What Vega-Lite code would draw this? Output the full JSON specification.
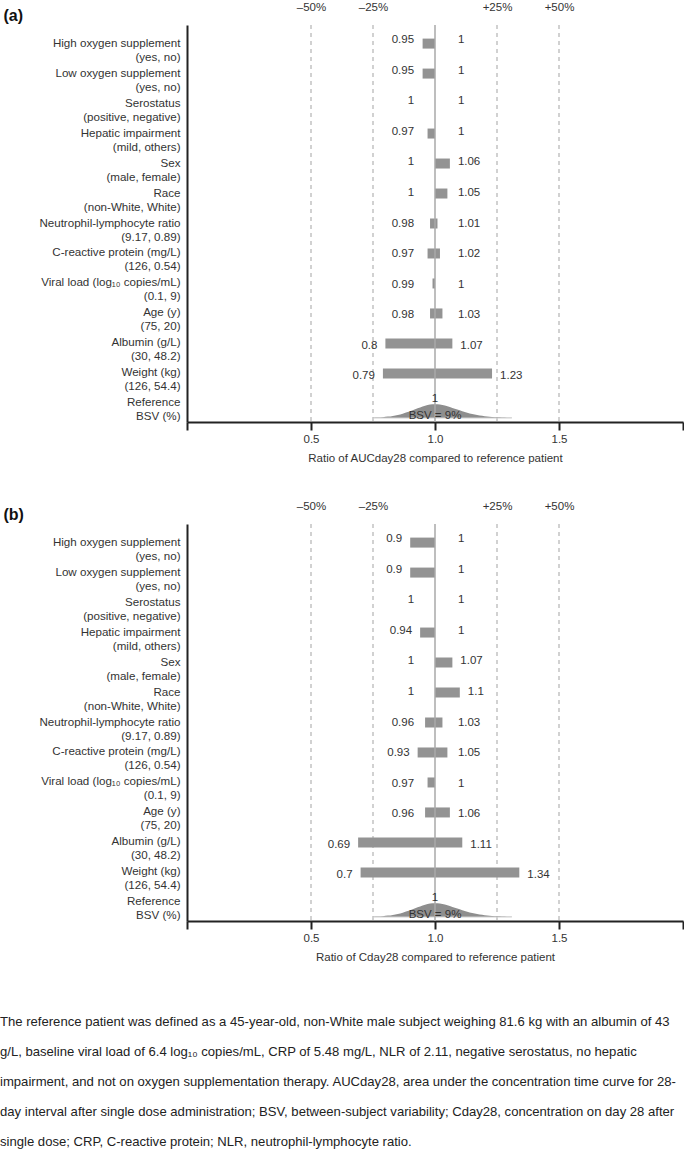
{
  "$schema": "https://vega.github.io/schema/vega-lite/v6.json",
  "padding": {"left": 0, "top": 1, "right": 0, "bottom": 0},
  "spacing": 36,
  "title": {
    "text": [
      "The reference patient was defined as a 45-year-old, non-White male subject weighing 81.6 kg with an albumin of 43",
      "g/L, baseline viral load of 6.4 log₁₀ copies/mL, CRP of 5.48 mg/L, NLR of 2.11, negative serostatus, no hepatic",
      "impairment, and not on oxygen supplementation therapy. AUCday28, area under the concentration time curve for 28-",
      "day interval after single dose administration; BSV, between-subject variability; Cday28, concentration on day 28 after",
      "single dose; CRP, C-reactive protein; NLR, neutrophil-lymphocyte ratio."
    ],
    "orient": "bottom",
    "anchor": "start",
    "frame": "bounds",
    "offset": 53,
    "dx": -3,
    "fontSize": 13.1,
    "fontWeight": "normal",
    "color": "#222222",
    "lineHeight": 30,
    "font": "Liberation Sans"
  },
  "vconcat": [
    {
      "width": 496,
      "height": 397,
      "data": {"values": [
        {"order": 1, "label": "High oxygen supplement|(yes, no)", "low": 0.95, "high": 1},
        {"order": 2, "label": "Low oxygen supplement|(yes, no)", "low": 0.95, "high": 1},
        {"order": 3, "label": "Serostatus|(positive, negative)", "low": 1, "high": 1},
        {"order": 4, "label": "Hepatic impairment|(mild, others)", "low": 0.97, "high": 1},
        {"order": 5, "label": "Sex|(male, female)", "low": 1, "high": 1.06},
        {"order": 6, "label": "Race|(non-White, White)", "low": 1, "high": 1.05},
        {"order": 7, "label": "Neutrophil-lymphocyte ratio|(9.17, 0.89)", "low": 0.98, "high": 1.01},
        {"order": 8, "label": "C-reactive protein (mg/L)|(126, 0.54)", "low": 0.97, "high": 1.02},
        {"order": 9, "label": "Viral load (log₁₀ copies/mL)|(0.1, 9)", "low": 0.99, "high": 1},
        {"order": 10, "label": "Age (y)|(75, 20)", "low": 0.98, "high": 1.03},
        {"order": 11, "label": "Albumin (g/L)|(30, 48.2)", "low": 0.8, "high": 1.07},
        {"order": 12, "label": "Weight (kg)|(126, 54.4)", "low": 0.79, "high": 1.23},
        {"order": 13, "label": "Reference|BSV (%)", "low": 1, "high": 1, "bsv": "BSV = 9%"}
      ]},
      "layer": [
        {
          "data": {"values": [{"pct": 0.5}, {"pct": 0.75}, {"pct": 1.25}, {"pct": 1.5}]},
          "mark": {"type": "rule", "color": "#b3b3b3", "strokeDash": [4, 4], "strokeWidth": 1.2},
          "encoding": {
            "x": {"field": "pct", "type": "quantitative", "scale": {"domain": [0, 2], "nice": false, "zero": false},
              "axis": {"orient": "top", "values": [0.5, 0.75, 1.25, 1.5], "labelExpr": "(datum.value < 1 ? '–' : '+') + format(abs(datum.value - 1) * 100, 'd') + '%'", "domain": false, "ticks": false, "grid": false, "labelPadding": 13, "title": null, "labelFontSize": 11.5, "labelColor": "#333333"}}
          }
        },
        {
          "data": {"values": [
            {"x": 0.75, "d": 0.015}, {"x": 0.77, "d": 0.03}, {"x": 0.79, "d": 0.06}, {"x": 0.81, "d": 0.1},
            {"x": 0.83, "d": 0.15}, {"x": 0.85, "d": 0.22}, {"x": 0.87, "d": 0.31}, {"x": 0.89, "d": 0.42},
            {"x": 0.91, "d": 0.55}, {"x": 0.93, "d": 0.69}, {"x": 0.95, "d": 0.82}, {"x": 0.97, "d": 0.92},
            {"x": 0.99, "d": 0.99}, {"x": 1.01, "d": 0.99}, {"x": 1.03, "d": 0.93}, {"x": 1.05, "d": 0.84},
            {"x": 1.07, "d": 0.72}, {"x": 1.09, "d": 0.6}, {"x": 1.11, "d": 0.48}, {"x": 1.13, "d": 0.38},
            {"x": 1.15, "d": 0.29}, {"x": 1.17, "d": 0.22}, {"x": 1.19, "d": 0.16}, {"x": 1.21, "d": 0.11},
            {"x": 1.23, "d": 0.08}, {"x": 1.25, "d": 0.05}, {"x": 1.27, "d": 0.035}, {"x": 1.29, "d": 0.02},
            {"x": 1.31, "d": 0.01}
          ]},
          "mark": {"type": "area", "color": "#8e8e8e", "interpolate": "monotone"},
          "encoding": {
            "x": {"field": "x", "type": "quantitative", "axis": null},
            "y": {"field": "d", "type": "quantitative", "scale": {"domain": [-0.286, 28.07], "nice": false, "zero": false}, "axis": null}
          }
        },
        {
          "data": {"values": [{"from": 0.75, "to": 1.31, "base": 0}]},
          "mark": {"type": "rule", "color": "#cfcfcf", "strokeWidth": 1},
          "encoding": {
            "x": {"field": "from", "type": "quantitative", "axis": null},
            "x2": {"field": "to"},
            "y": {"field": "base", "type": "quantitative", "scale": {"domain": [-0.286, 28.07], "nice": false, "zero": false}, "axis": null}
          }
        },
        {
          "mark": {"type": "bar", "height": 10, "color": "#939393"},
          "encoding": {
            "y": {"field": "label", "type": "nominal", "sort": {"field": "order", "op": "min"}, "scale": {"paddingInner": 0, "paddingOuter": 0.12},
              "axis": {"title": "(a)", "labelExpr": "split(datum.label, '|')", "labelLineHeight": 14, "labelFontSize": 11.6, "labelColor": "#333333", "labelPadding": 7, "labelLimit": 300, "ticks": false, "tickSize": 0, "domainColor": "#222222", "domainWidth": 2, "titleAngle": 0, "titleFontSize": 16, "titleFontWeight": "bold", "titleColor": "#111111", "titleAlign": "left", "titleBaseline": "middle", "titleX": -184, "titleY": -10}},
            "x": {"field": "low", "type": "quantitative", "scale": {"domain": [0, 2], "nice": false, "zero": false},
              "axis": {"orient": "bottom", "values": [0, 0.5, 1, 1.5, 2], "labelExpr": "datum.value == 0 || datum.value == 2 ? '' : format(datum.value, '.1f')", "grid": false, "domainColor": "#222222", "domainWidth": 2, "tickColor": "#222222", "tickWidth": 2, "tickSize": 8, "labelPadding": 3, "labelFontSize": 11.5, "labelColor": "#333333", "title": "Ratio of AUCday28 compared to reference patient", "titleFontSize": 11.5, "titleFontWeight": "normal", "titleColor": "#333333", "titlePadding": 8}},
            "x2": {"field": "high"}
          }
        },
        {
          "data": {"values": [{"ref": 1}]},
          "mark": {"type": "rule", "color": "#a9a9a9", "strokeWidth": 1.5},
          "encoding": {"x": {"field": "ref", "type": "quantitative", "axis": null}}
        },
        {
          "transform": [{"calculate": "min(datum.low, 0.948)", "as": "lx"}],
          "mark": {"type": "text", "align": "right", "dx": -8, "fontSize": 11.5, "color": "#333333"},
          "encoding": {
            "y": {"field": "label", "type": "nominal", "sort": {"field": "order", "op": "min"}, "scale": {"paddingInner": 0, "paddingOuter": 0.12}, "axis": null},
            "x": {"field": "lx", "type": "quantitative", "axis": null},
            "text": {"field": "low", "type": "nominal"},
            "opacity": {"condition": {"test": "datum.order == 13", "value": 0}, "value": 1}
          }
        },
        {
          "transform": [{"calculate": "max(datum.high, 1.06)", "as": "rx"}],
          "mark": {"type": "text", "align": "left", "dx": 8, "fontSize": 11.5, "color": "#333333"},
          "encoding": {
            "y": {"field": "label", "type": "nominal", "sort": {"field": "order", "op": "min"}, "scale": {"paddingInner": 0, "paddingOuter": 0.12}, "axis": null},
            "x": {"field": "rx", "type": "quantitative", "axis": null},
            "text": {"field": "high", "type": "nominal"},
            "opacity": {"condition": {"test": "datum.order == 13", "value": 0}, "value": 1}
          }
        },
        {
          "mark": {"type": "text", "align": "center", "dy": -8, "fontSize": 11.5, "color": "#333333"},
          "encoding": {
            "y": {"field": "label", "type": "nominal", "sort": {"field": "order", "op": "min"}, "scale": {"paddingInner": 0, "paddingOuter": 0.12}, "axis": null},
            "x": {"field": "low", "type": "quantitative", "axis": null},
            "text": {"field": "low", "type": "nominal"},
            "opacity": {"condition": {"test": "datum.order == 13", "value": 1}, "value": 0}
          }
        },
        {
          "mark": {"type": "text", "align": "center", "dy": 9, "fontSize": 11.5, "color": "#333333"},
          "encoding": {
            "y": {"field": "label", "type": "nominal", "sort": {"field": "order", "op": "min"}, "scale": {"paddingInner": 0, "paddingOuter": 0.12}, "axis": null},
            "x": {"field": "low", "type": "quantitative", "axis": null},
            "text": {"field": "bsv", "type": "nominal"},
            "opacity": {"condition": {"test": "datum.order == 13", "value": 1}, "value": 0}
          }
        }
      ],
      "resolve": {"scale": {"y": "independent"}, "axis": {"x": "independent"}}
    },
    {
      "width": 496,
      "height": 397,
      "data": {"values": [
        {"order": 1, "label": "High oxygen supplement|(yes, no)", "low": 0.9, "high": 1},
        {"order": 2, "label": "Low oxygen supplement|(yes, no)", "low": 0.9, "high": 1},
        {"order": 3, "label": "Serostatus|(positive, negative)", "low": 1, "high": 1},
        {"order": 4, "label": "Hepatic impairment|(mild, others)", "low": 0.94, "high": 1},
        {"order": 5, "label": "Sex|(male, female)", "low": 1, "high": 1.07},
        {"order": 6, "label": "Race|(non-White, White)", "low": 1, "high": 1.1},
        {"order": 7, "label": "Neutrophil-lymphocyte ratio|(9.17, 0.89)", "low": 0.96, "high": 1.03},
        {"order": 8, "label": "C-reactive protein (mg/L)|(126, 0.54)", "low": 0.93, "high": 1.05},
        {"order": 9, "label": "Viral load (log₁₀ copies/mL)|(0.1, 9)", "low": 0.97, "high": 1},
        {"order": 10, "label": "Age (y)|(75, 20)", "low": 0.96, "high": 1.06},
        {"order": 11, "label": "Albumin (g/L)|(30, 48.2)", "low": 0.69, "high": 1.11},
        {"order": 12, "label": "Weight (kg)|(126, 54.4)", "low": 0.7, "high": 1.34},
        {"order": 13, "label": "Reference|BSV (%)", "low": 1, "high": 1, "bsv": "BSV = 9%"}
      ]},
      "layer": [
        {
          "data": {"values": [{"pct": 0.5}, {"pct": 0.75}, {"pct": 1.25}, {"pct": 1.5}]},
          "mark": {"type": "rule", "color": "#b3b3b3", "strokeDash": [4, 4], "strokeWidth": 1.2},
          "encoding": {
            "x": {"field": "pct", "type": "quantitative", "scale": {"domain": [0, 2], "nice": false, "zero": false},
              "axis": {"orient": "top", "values": [0.5, 0.75, 1.25, 1.5], "labelExpr": "(datum.value < 1 ? '–' : '+') + format(abs(datum.value - 1) * 100, 'd') + '%'", "domain": false, "ticks": false, "grid": false, "labelPadding": 13, "title": null, "labelFontSize": 11.5, "labelColor": "#333333"}}
          }
        },
        {
          "data": {"values": [
            {"x": 0.75, "d": 0.015}, {"x": 0.77, "d": 0.03}, {"x": 0.79, "d": 0.06}, {"x": 0.81, "d": 0.1},
            {"x": 0.83, "d": 0.15}, {"x": 0.85, "d": 0.22}, {"x": 0.87, "d": 0.31}, {"x": 0.89, "d": 0.42},
            {"x": 0.91, "d": 0.55}, {"x": 0.93, "d": 0.69}, {"x": 0.95, "d": 0.82}, {"x": 0.97, "d": 0.92},
            {"x": 0.99, "d": 0.99}, {"x": 1.01, "d": 0.99}, {"x": 1.03, "d": 0.93}, {"x": 1.05, "d": 0.84},
            {"x": 1.07, "d": 0.72}, {"x": 1.09, "d": 0.6}, {"x": 1.11, "d": 0.48}, {"x": 1.13, "d": 0.38},
            {"x": 1.15, "d": 0.29}, {"x": 1.17, "d": 0.22}, {"x": 1.19, "d": 0.16}, {"x": 1.21, "d": 0.11},
            {"x": 1.23, "d": 0.08}, {"x": 1.25, "d": 0.05}, {"x": 1.27, "d": 0.035}, {"x": 1.29, "d": 0.02},
            {"x": 1.31, "d": 0.01}
          ]},
          "mark": {"type": "area", "color": "#8e8e8e", "interpolate": "monotone"},
          "encoding": {
            "x": {"field": "x", "type": "quantitative", "axis": null},
            "y": {"field": "d", "type": "quantitative", "scale": {"domain": [-0.286, 28.07], "nice": false, "zero": false}, "axis": null}
          }
        },
        {
          "data": {"values": [{"from": 0.75, "to": 1.31, "base": 0}]},
          "mark": {"type": "rule", "color": "#cfcfcf", "strokeWidth": 1},
          "encoding": {
            "x": {"field": "from", "type": "quantitative", "axis": null},
            "x2": {"field": "to"},
            "y": {"field": "base", "type": "quantitative", "scale": {"domain": [-0.286, 28.07], "nice": false, "zero": false}, "axis": null}
          }
        },
        {
          "mark": {"type": "bar", "height": 10, "color": "#939393"},
          "encoding": {
            "y": {"field": "label", "type": "nominal", "sort": {"field": "order", "op": "min"}, "scale": {"paddingInner": 0, "paddingOuter": 0.12},
              "axis": {"title": "(b)", "labelExpr": "split(datum.label, '|')", "labelLineHeight": 14, "labelFontSize": 11.6, "labelColor": "#333333", "labelPadding": 7, "labelLimit": 300, "ticks": false, "tickSize": 0, "domainColor": "#222222", "domainWidth": 2, "titleAngle": 0, "titleFontSize": 16, "titleFontWeight": "bold", "titleColor": "#111111", "titleAlign": "left", "titleBaseline": "middle", "titleX": -184, "titleY": -10}},
            "x": {"field": "low", "type": "quantitative", "scale": {"domain": [0, 2], "nice": false, "zero": false},
              "axis": {"orient": "bottom", "values": [0, 0.5, 1, 1.5, 2], "labelExpr": "datum.value == 0 || datum.value == 2 ? '' : format(datum.value, '.1f')", "grid": false, "domainColor": "#222222", "domainWidth": 2, "tickColor": "#222222", "tickWidth": 2, "tickSize": 8, "labelPadding": 3, "labelFontSize": 11.5, "labelColor": "#333333", "title": "Ratio of Cday28 compared to reference patient", "titleFontSize": 11.5, "titleFontWeight": "normal", "titleColor": "#333333", "titlePadding": 8}},
            "x2": {"field": "high"}
          }
        },
        {
          "data": {"values": [{"ref": 1}]},
          "mark": {"type": "rule", "color": "#a9a9a9", "strokeWidth": 1.5},
          "encoding": {"x": {"field": "ref", "type": "quantitative", "axis": null}}
        },
        {
          "transform": [{"calculate": "min(datum.low, 0.948)", "as": "lx"}],
          "mark": {"type": "text", "align": "right", "dx": -8, "fontSize": 11.5, "color": "#333333"},
          "encoding": {
            "y": {"field": "label", "type": "nominal", "sort": {"field": "order", "op": "min"}, "scale": {"paddingInner": 0, "paddingOuter": 0.12}, "axis": null},
            "x": {"field": "lx", "type": "quantitative", "axis": null},
            "text": {"field": "low", "type": "nominal"},
            "opacity": {"condition": {"test": "datum.order == 13", "value": 0}, "value": 1}
          }
        },
        {
          "transform": [{"calculate": "max(datum.high, 1.06)", "as": "rx"}],
          "mark": {"type": "text", "align": "left", "dx": 8, "fontSize": 11.5, "color": "#333333"},
          "encoding": {
            "y": {"field": "label", "type": "nominal", "sort": {"field": "order", "op": "min"}, "scale": {"paddingInner": 0, "paddingOuter": 0.12}, "axis": null},
            "x": {"field": "rx", "type": "quantitative", "axis": null},
            "text": {"field": "high", "type": "nominal"},
            "opacity": {"condition": {"test": "datum.order == 13", "value": 0}, "value": 1}
          }
        },
        {
          "mark": {"type": "text", "align": "center", "dy": -8, "fontSize": 11.5, "color": "#333333"},
          "encoding": {
            "y": {"field": "label", "type": "nominal", "sort": {"field": "order", "op": "min"}, "scale": {"paddingInner": 0, "paddingOuter": 0.12}, "axis": null},
            "x": {"field": "low", "type": "quantitative", "axis": null},
            "text": {"field": "low", "type": "nominal"},
            "opacity": {"condition": {"test": "datum.order == 13", "value": 1}, "value": 0}
          }
        },
        {
          "mark": {"type": "text", "align": "center", "dy": 9, "fontSize": 11.5, "color": "#333333"},
          "encoding": {
            "y": {"field": "label", "type": "nominal", "sort": {"field": "order", "op": "min"}, "scale": {"paddingInner": 0, "paddingOuter": 0.12}, "axis": null},
            "x": {"field": "low", "type": "quantitative", "axis": null},
            "text": {"field": "bsv", "type": "nominal"},
            "opacity": {"condition": {"test": "datum.order == 13", "value": 1}, "value": 0}
          }
        }
      ],
      "resolve": {"scale": {"y": "independent"}, "axis": {"x": "independent"}}
    }
  ],
  "config": {
    "font": "Liberation Sans",
    "view": {"stroke": null},
    "axis": {"grid": false}
  }
}
